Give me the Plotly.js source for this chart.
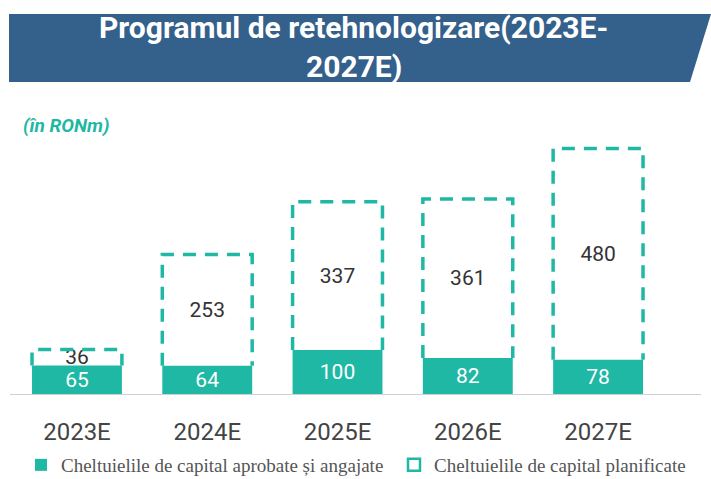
<!DOCTYPE html>
<html><head><meta charset="utf-8">
<script src="https://cdn.plot.ly/plotly-3.0.1.min.js"></script>
<style>body{margin:0;background:#fff}#c{width:711px;height:479px}</style>
</head><body><div id="c"></div>
<script>
const categories = ["2023E","2024E","2025E","2026E","2027E"];
const approved = [65, 64, 100, 82, 78];
const planned = [36, 253, 337, 361, 480];
const approvedName = "Cheltuielile de capital aprobate și angajate";
const plannedName = "Cheltuielile de capital planificate";

const teal = "#1fb8a5";
const idx = categories.map((_, i) => i);
const W = 0.69;

const traces = [
  {type:"bar", x:idx, y:approved, width:W, name:approvedName, legend:"legend",
   marker:{color:teal, line:{width:0}}, text:approved.map(String), textposition:"inside",
   insidetextanchor:"middle", textangle:0, constraintext:"none",
   textfont:{family:"Roboto, sans-serif", size:21, color:"#ffffff"},
   hoverinfo:"skip", showlegend:true},
  {type:"bar", x:idx, y:planned, base:approved, width:W, name:plannedName,
   marker:{color:"rgba(255,255,255,0)", line:{width:0}}, text:planned.map(String), textposition:"inside",
   insidetextanchor:"middle", textangle:0, constraintext:"none",
   textfont:{family:"Roboto, sans-serif", size:21, color:"#333333"},
   hoverinfo:"skip", showlegend:false}
];
// dashed outlines built from data
idx.forEach((i) => {
  const b = approved[i], t = approved[i] + planned[i];
  traces.push({type:"scatter", mode:"lines",
    x:[i-W/2, i-W/2, i+W/2, i+W/2],
    y:[b, t, t, b],
    line:{color:teal, width:3.5, dash:"13px,9px"},
    hoverinfo:"skip", name:plannedName, showlegend:false});
});
// legend entry for planned series
traces.push({type:"scatter", mode:"markers", x:[null], y:[null], name:plannedName, legend:"legend2",
  marker:{symbol:"square-open", size:12, color:teal, line:{width:2.5, color:teal}},
  hoverinfo:"skip", showlegend:true});

const legendFont = {family:"Liberation Serif, serif", size:19, color:"#555"};
const pw = 691, ph = 294;
function px(x){return (x-10)/pw;} function py(y){return (394-y)/ph;}

const layout = {
  width:711, height:479,
  margin:{l:10, r:10, t:100, b:85},
  paper_bgcolor:"#fff", plot_bgcolor:"#fff",
  barmode:"overlay",
  xaxis:{range:[-0.514, 4.79], tickvals:idx, ticktext:categories, showgrid:false, zeroline:false,
    showline:true, linecolor:"#d0d0d0", linewidth:1, ticks:"",
    ticklabelstandoff:16, tickfont:{family:"Roboto, sans-serif", size:24, color:"#444"}},
  yaxis:{range:[0, 668], visible:false},
  showlegend:true,
  legend:{orientation:"h", xref:"container", yref:"container", x:21/711, xanchor:"left",
    y:(479-465)/479, yanchor:"middle", font:legendFont, itemwidth:30, bgcolor:"rgba(0,0,0,0)"},
  legend2:{orientation:"h", xref:"container", yref:"container", x:394/711, xanchor:"left",
    y:(479-465)/479, yanchor:"middle", font:legendFont, itemwidth:30, bgcolor:"rgba(0,0,0,0)"},
  shapes:[
    {type:"path", xref:"paper", yref:"paper", layer:"below",
     path:`M ${px(9)},${py(14)} L ${px(711)},${py(14)} L ${px(690)},${py(82)} L ${px(9)},${py(82)} Z`,
     fillcolor:"#34608c", line:{width:0}}
  ],
  annotations:[
    {xref:"paper", yref:"paper", x:px(353), y:py(28), xanchor:"center", yanchor:"middle",
     text:"<b>Programul de retehnologizare(2023E-</b>", showarrow:false,
     font:{family:"Roboto, sans-serif", size:30, color:"#ffffff"}},
    {xref:"paper", yref:"paper", x:px(354), y:py(66), xanchor:"center", yanchor:"middle",
     text:"<b>2027E)</b>", showarrow:false,
     font:{family:"Roboto, sans-serif", size:30, color:"#ffffff"}},
    {xref:"paper", yref:"paper", x:px(21), y:py(125), xanchor:"left", yanchor:"middle",
     text:"<b><i>(în RONm)</i></b>", showarrow:false,
     font:{family:"Roboto, sans-serif", size:19, color:teal}}
  ]
};

Plotly.newPlot("c", traces, layout, {staticPlot:true});
</script></body></html>
